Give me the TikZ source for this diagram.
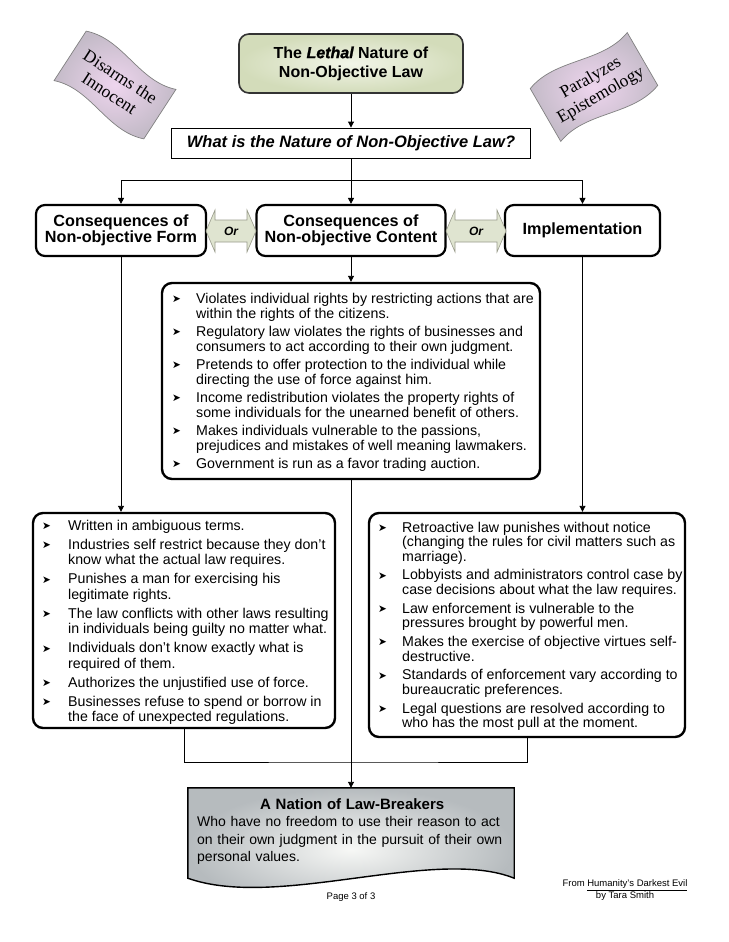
\documentclass[tikz,border=0pt]{standalone}
\usepackage{fontspec}
\setmainfont{Liberation Sans}
\newfontfamily\bannerfont{Liberation Serif}
\newfontfamily\dejavu{DejaVu Sans}
\newfontfamily\lethalfam{Liberation Sans}[FakeBold=1.3]
\usetikzlibrary{arrows.meta,calc}
\definecolor{titlein}{HTML}{F2F5E8}
\definecolor{titleout}{HTML}{D3DCBA}
\definecolor{nationin}{HTML}{F7F8F6}
\definecolor{nationout}{HTML}{B6BBBE}
\definecolor{bannerin}{HTML}{EED5EE}
\definecolor{bannerout}{HTML}{C4BBC8}
\definecolor{orfill}{HTML}{DFE4D0}
\definecolor{oredge}{HTML}{9A9C8C}
\newcommand\fs[2]{\fontsize{#1}{#2}\selectfont}
\newcommand\bul[1][24pt]{\makebox[#1][l]{\raisebox{0.5pt}{\dejavu\fontsize{10.5}{10}\selectfont ➤}}}
\tikzset{
  hdr/.style={draw, line width=2.2pt, rounded corners=9pt, align=center, font=\bfseries\fs{16.2}{16}, inner sep=0pt},
  listbox/.style={draw, line width=2.4pt, rounded corners=10pt, inner sep=0pt},
  arr/.style={-{Triangle[length=6pt,width=6pt]}, line width=0.9pt},
  conn/.style={line width=0.9pt},
  listtxt/.style={anchor=base west, inner sep=0pt},
  orarrow/.style={fill=orfill, draw=oredge, line width=0.6pt},
  ortxt/.style={font=\bfseries\itshape\fs{12}{12}, inner sep=0pt},
  banner/.style={inner color=bannerin, outer color=bannerout, draw=black!50, line width=0.7pt},
  bannertxt/.style={font=\bannerfont\fs{17.5}{20}, align=center, inner sep=0pt},
}
\begin{document}
\begin{tikzpicture}[x=1pt,y=-1pt]
\useasboundingbox (0,0) rectangle (728,942);
\fill[white] (0,0) rectangle (728,942);

% banners
\begin{scope}[shift={(115,85)}, rotate=-33]
\shade[banner] (-53.5,-29.5) .. controls (-18,-43.5) and (18,-15.5) .. (53.5,-29.5)
  -- (53.5,29.5) .. controls (18,43.5) and (-18,15.5) .. (-53.5,29.5) -- cycle;
\end{scope}
\node[bannertxt, rotate=-33] (disarms) at (115,85) {Disarms the\\Innocent};
\begin{scope}[shift={(594,87)}, rotate=30]
\shade[banner] (-56,-30.5) .. controls (-19,-44.5) and (19,-16.5) .. (56,-30.5)
  -- (56,30.5) .. controls (19,44.5) and (-19,16.5) .. (-56,30.5) -- cycle;
\end{scope}
\node[bannertxt, rotate=30] (paralyzes) at (596,87) {Paralyzes\\Epistemology};

% title and question
\node[draw=black!80, line width=1.6pt, rounded corners=10pt, inner color=titlein, outer color=titleout,
  minimum width=224pt, minimum height=59pt, align=center, font=\bfseries\fs{16}{19}] (title) at (351,63.5)
  {The {\lethalfam\bfseries\itshape Lethal} Nature of\\Non-Objective Law};
\node[draw, line width=0.9pt, minimum width=359pt, minimum height=30pt, inner sep=0pt,
  font=\bfseries\itshape\fs{16.5}{16}] (question) at (351,143) {What is the Nature of Non-Objective Law?};
\coordinate (split) at (351,180);

% headers
\node[hdr, minimum width=170pt, minimum height=51pt] (form) at (121,230.5) {Consequences of\\Non-objective Form};
\node[hdr, minimum width=189pt, minimum height=51pt] (content) at (351,230.5) {Consequences of\\Non-objective Content};
\node[hdr, minimum width=155pt, minimum height=51pt] (impl) at (582.5,230.5) {Implementation};

% Or arrows
\draw[orarrow] (206,231) -- (215,210) -- (215,220) -- (247,220) -- (247,210) -- (256,231)
  -- (247,252) -- (247,242) -- (215,242) -- (215,252) -- cycle;
\node[ortxt] (or1) at (231,231) {Or};
\draw[orarrow] (446,231) -- (455,210) -- (455,220) -- (497,220) -- (497,210) -- (506,231)
  -- (497,252) -- (497,242) -- (455,242) -- (455,252) -- cycle;
\node[ortxt] (or2) at (476,231) {Or};

% content list
\node[listbox, minimum width=378pt, minimum height=196pt] (clist) at (351,381) {};
\node[listtxt, font=\fs{14.2}{15}] (clisttxt) at (172,303) {\begin{tabular}[t]{@{}l@{}l@{}}
\bul & Violates individual rights by restricting actions that are\\
 & within the rights of the citizens.\\[3pt]
\bul & Regulatory law violates the rights of businesses and\\
 & consumers to act according to their own judgment.\\[3pt]
\bul & Pretends to offer protection to the individual while\\
 & directing the use of force against him.\\[3pt]
\bul & Income redistribution violates the property rights of\\
 & some individuals for the unearned benefit of others.\\[3pt]
\bul & Makes individuals vulnerable to the passions,\\
 & prejudices and mistakes of well meaning lawmakers.\\[3pt]
\bul & Government is run as a favor trading auction.
\end{tabular}};

% left list
\node[listbox, minimum width=302pt, minimum height=215pt] (llist) at (184,620.5) {};
\node[listtxt, font=\fs{14.2}{15.5}] (llisttxt) at (42,530) {\begin{tabular}[t]{@{}l@{}l@{}}
\bul[26pt] & Written in ambiguous terms.\\[3.5pt]
\bul[26pt] & Industries self restrict because they don’t\\
 & know what the actual law requires.\\[3.5pt]
\bul[26pt] & Punishes a man for exercising his\\
 & legitimate rights.\\[3.5pt]
\bul[26pt] & The law conflicts with other laws resulting\\
 & in individuals being guilty no matter what.\\[3.5pt]
\bul[26pt] & Individuals don’t know exactly what is\\
 & required of them.\\[3.5pt]
\bul[26pt] & Authorizes the unjustified use of force.\\[3.5pt]
\bul[26pt] & Businesses refuse to spend or borrow in\\
 & the face of unexpected regulations.
\end{tabular}};

% right list
\node[listbox, minimum width=316pt, minimum height=224pt] (rlist) at (527,625) {};
\node[listtxt, font=\fs{14.2}{14.5}] (rlisttxt) at (378,532) {\begin{tabular}[t]{@{}l@{}l@{}}
\bul & Retroactive law punishes without notice\\
 & (changing the rules for civil matters such as\\
 & marriage).\\[4pt]
\bul & Lobbyists and administrators control case by\\
 & case decisions about what the law requires.\\[4pt]
\bul & Law enforcement is vulnerable to the\\
 & pressures brought by powerful men.\\[4pt]
\bul & Makes the exercise of objective virtues self-\\
 & destructive.\\[4pt]
\bul & Standards of enforcement vary according to\\
 & bureaucratic preferences.\\[4pt]
\bul & Legal questions are resolved according to\\
 & who has the most pull at the moment.
\end{tabular}};

% nation
\node[minimum width=326pt, minimum height=90pt, inner sep=0pt] (nation) at (351,833) {};
\shade[inner color=nationin, outer color=nationout, draw=black, line width=1.4pt]
  (nation.north west) -- (nation.north east) -- (nation.south east)
  .. controls ($(nation.south east)+(-80,-32)$) and ($(nation.south west)+(90,32)$) .. (nation.south west) -- cycle;
\node[anchor=base west, inner sep=0pt, text width=310pt, align=left, font=\fs{14}{17.5}] (nationtxt) at (197,809)
  {{\centering\bfseries\fs{15}{17.5}A Nation of Law-Breakers\par}Who have no freedom to use their reason to act\\on their own judgment in the pursuit of their own\\personal values.};

% connectors
\draw[arr] (title.south) -- (question.north);
\draw[conn] (question.south) -- (split);
\draw[arr] (split) -| (form.north);
\draw[arr] (split) -| (impl.north);
\draw[arr] (split) -- (content.north);
\draw[arr] (content.south) -- (clist.north);
\draw[arr] (form.south) -- (form.south |- llist.north);
\draw[arr] (impl.south) -- (impl.south |- rlist.north);
\coordinate (merge) at (351,762);
\draw[conn] (llist.south) |- (merge) -| (rlist.south);
\draw[arr] (clist.south) -- (nation.north);

% footer
\node[font=\fs{9.5}{11}, inner sep=0pt] (page) at (351,897) {Page 3 of 3};
\node[align=center, font=\fs{9.5}{12}, inner sep=0pt] (source) at (625,890) {From \underline{Humanity’s Darkest Evil}\\by Tara Smith};
\end{tikzpicture}
\end{document}
